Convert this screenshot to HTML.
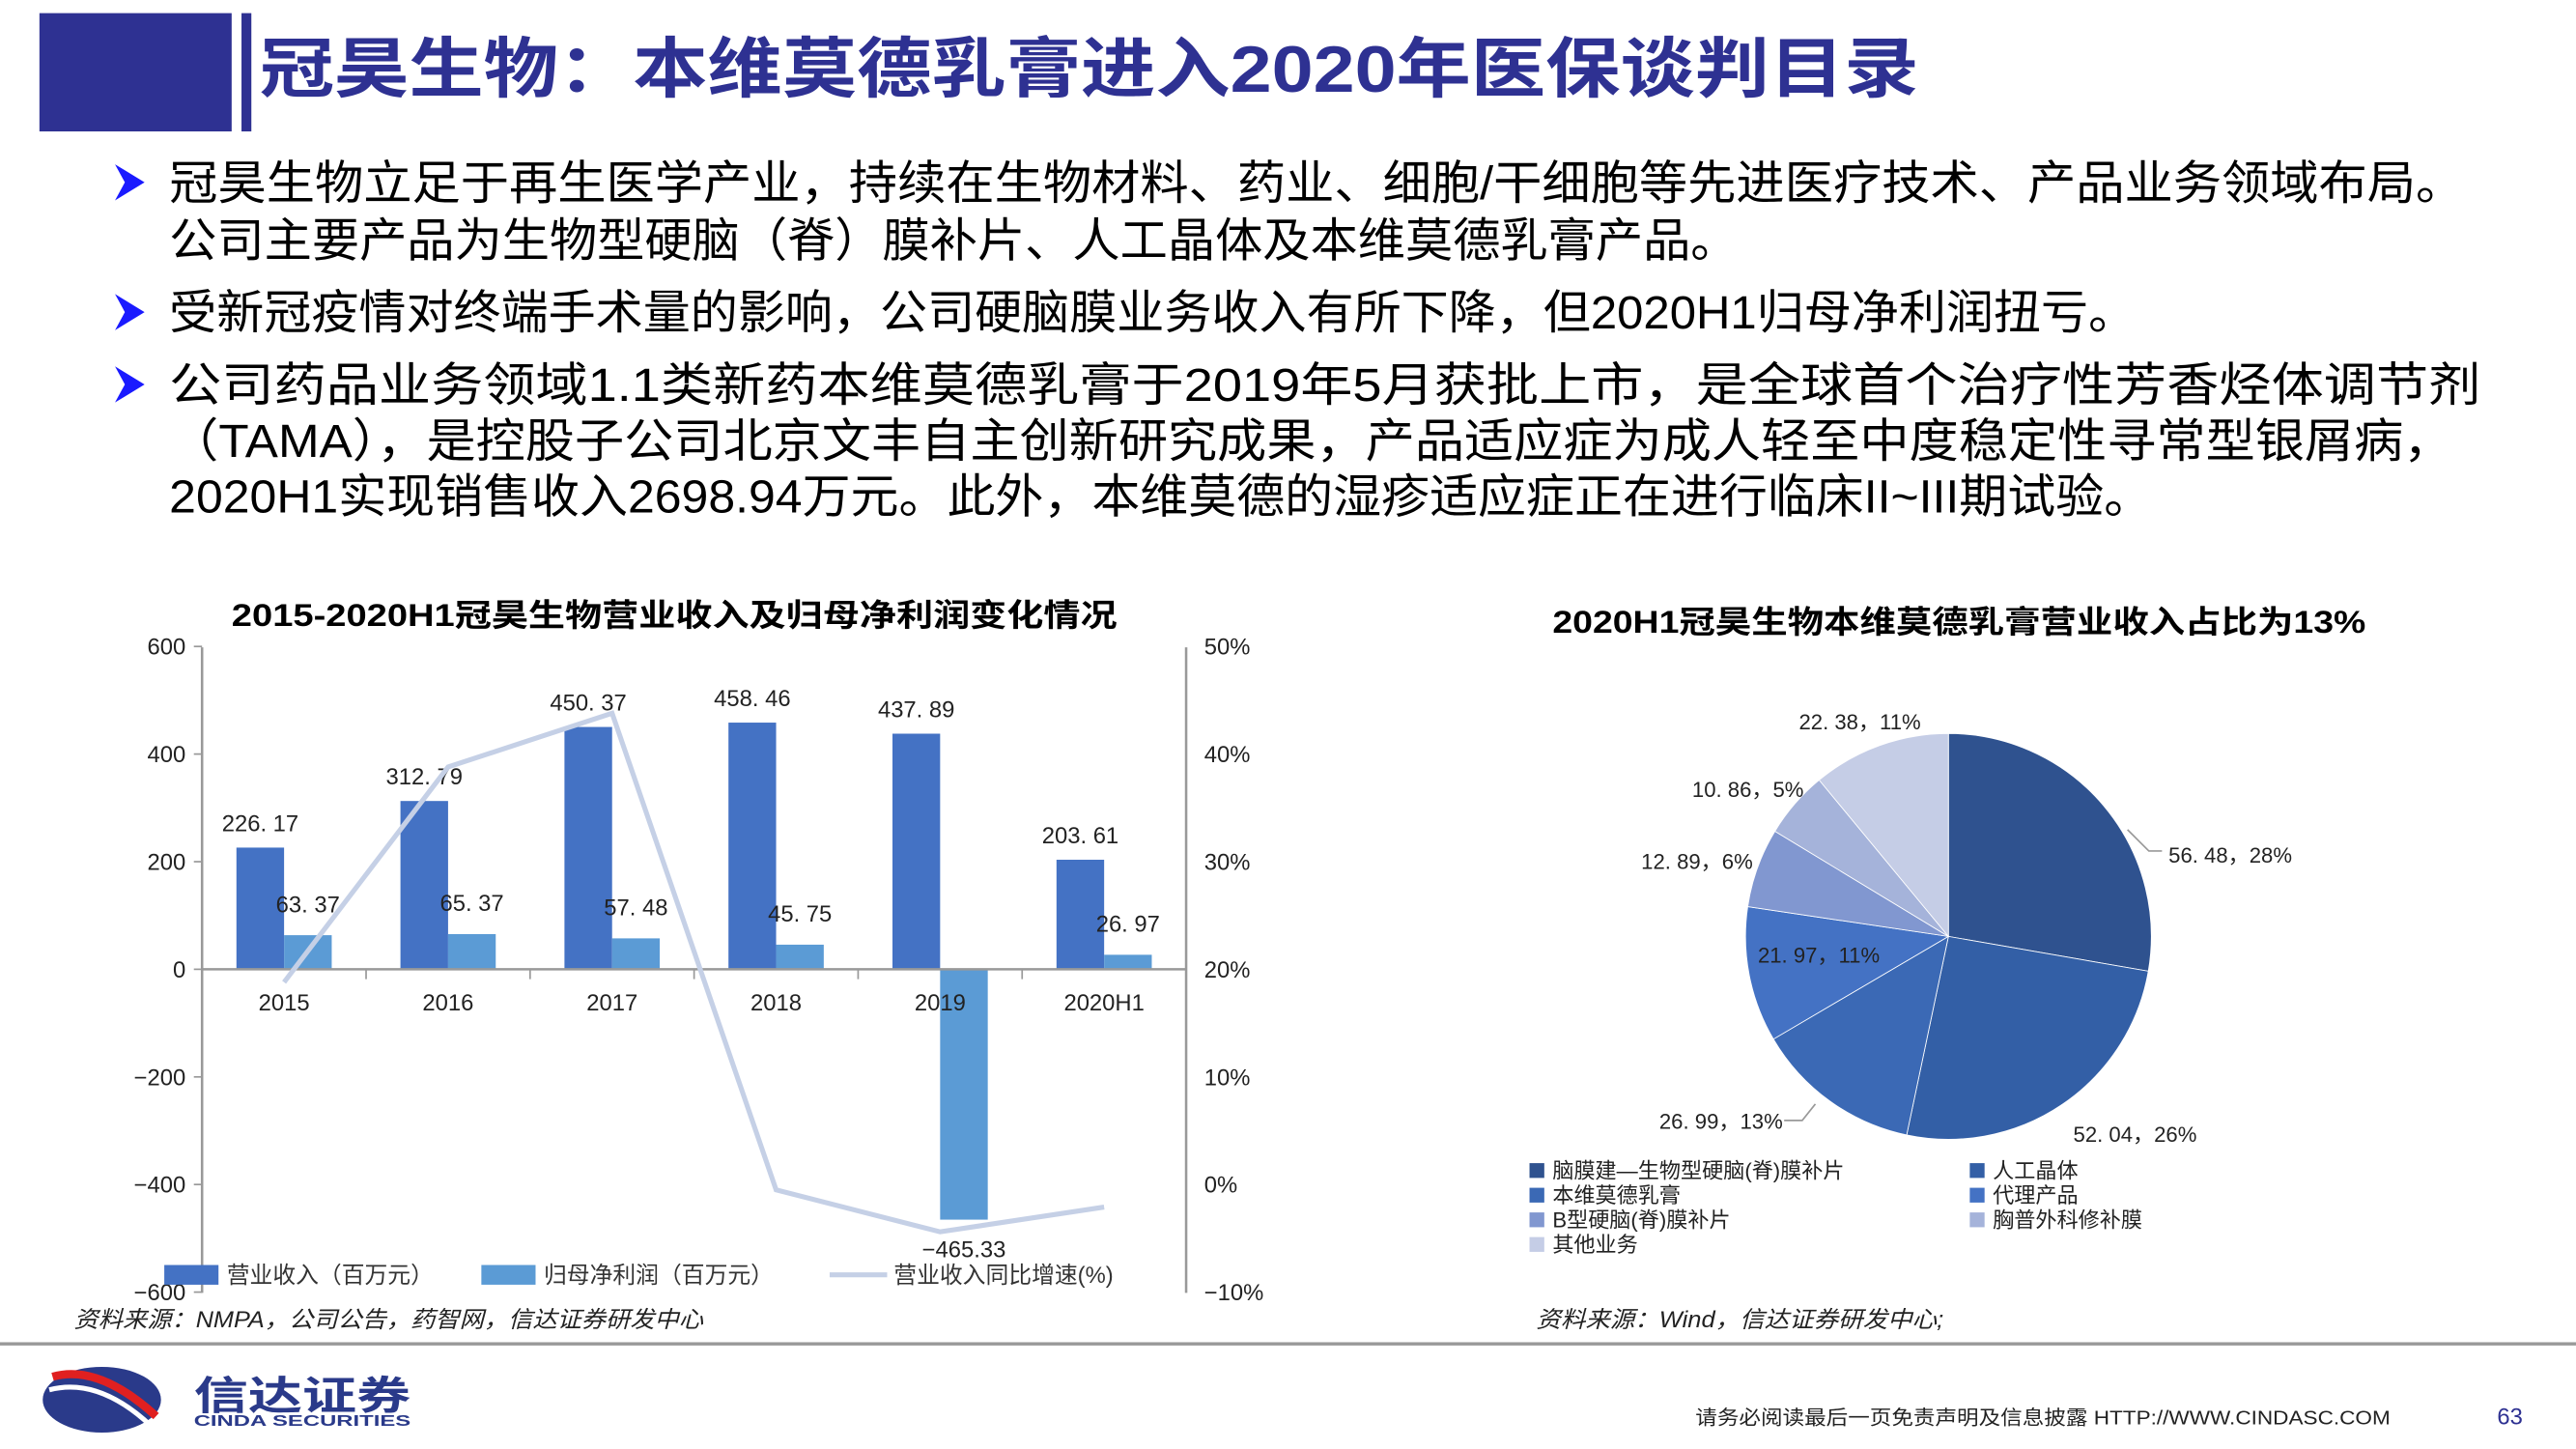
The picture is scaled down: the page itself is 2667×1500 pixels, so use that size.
<!DOCTYPE html>
<html><head><meta charset="utf-8"><style>
html,body{margin:0;padding:0;background:#fff;}
svg{display:block;}
text{font-family:"Liberation Sans","Noto Sans CJK SC",sans-serif;}
</style></head><body>
<svg id="s" width="2667" height="1500" viewBox="0 0 1568 882" preserveAspectRatio="none" xmlns="http://www.w3.org/2000/svg">
<rect x="24" y="8" width="117" height="72" fill="#2E3192"/>
<rect x="147" y="8" width="6" height="72" fill="#2E3192"/>
<text x="158" y="56" font-size="40" font-weight="bold" fill="#2E3192" textLength="1010" lengthAdjust="spacingAndGlyphs">冠昊生物：本维莫德乳膏进入2020年医保谈判目录</text>
<g font-size="28.5" fill="#000">
<path d="M70 100 L88 111 L70 122 L76 111 Z" fill="#1a1aff"/>
<text x="103" y="121" textLength="1397" lengthAdjust="spacingAndGlyphs">冠昊生物立足于再生医学产业，持续在生物材料、药业、细胞/干细胞等先进医疗技术、产品业务领域布局。</text>
<text x="103" y="156" textLength="955" lengthAdjust="spacingAndGlyphs">公司主要产品为生物型硬脑（脊）膜补片、人工晶体及本维莫德乳膏产品。</text>
<path d="M70 179 L88 190 L70 201 L76 190 Z" fill="#1a1aff"/>
<text x="103" y="200" textLength="1197" lengthAdjust="spacingAndGlyphs">受新冠疫情对终端手术量的影响，公司硬脑膜业务收入有所下降，但2020H1归母净利润扭亏。</text>
<path d="M70 223 L88 234 L70 245 L76 234 Z" fill="#1a1aff"/>
<text x="103" y="244" textLength="1407" lengthAdjust="spacingAndGlyphs">公司药品业务领域1.1类新药本维莫德乳膏于2019年5月获批上市，是全球首个治疗性芳香烃体调节剂</text>
<text x="103" y="278" textLength="1390" lengthAdjust="spacingAndGlyphs">（TAMA），是控股子公司北京文丰自主创新研究成果，产品适应症为成人轻至中度稳定性寻常型银屑病，</text>
<text x="103" y="312" textLength="1207" lengthAdjust="spacingAndGlyphs">2020H1实现销售收入2698.94万元。此外，本维莫德的湿疹适应症正在进行临床II~III期试验。</text>
</g>
<text x="141" y="381" font-size="19" font-weight="bold" textLength="539" lengthAdjust="spacingAndGlyphs">2015-2020H1冠昊生物营业收入及归母净利润变化情况</text>
<g id="bar"></g>
<text x="945" y="385" font-size="19" font-weight="bold" textLength="495" lengthAdjust="spacingAndGlyphs">2020H1冠昊生物本维莫德乳膏营业收入占比为13%</text>
<g id="pie"></g>
<text x="45" y="808" font-size="14" font-style="italic" fill="#222" textLength="383" lengthAdjust="spacingAndGlyphs">资料来源：NMPA，公司公告，药智网，信达证券研发中心</text>
<text x="935" y="808" font-size="14" font-style="italic" fill="#222" textLength="248" lengthAdjust="spacingAndGlyphs">资料来源：Wind，信达证券研发中心;</text>
<rect x="0" y="817" width="1568" height="2" fill="#999"/>
<g>
<ellipse cx="62" cy="852" rx="36" ry="20" fill="#2a3a8a"/>
<path d="M32 838 Q60 830 95 862" stroke="#e02020" stroke-width="5" fill="none"/>
<path d="M30 846 Q60 838 92 868" stroke="#fff" stroke-width="3" fill="none"/>
<text x="118" y="858" font-size="24" font-weight="bold" fill="#2a3a8a" textLength="132" lengthAdjust="spacingAndGlyphs">信达证券</text>
<text x="118" y="868" font-size="9" font-weight="bold" fill="#2a3a8a" textLength="132" lengthAdjust="spacingAndGlyphs">CINDA SECURITIES</text>
</g>
<text x="1032" y="867" font-size="12" fill="#222" textLength="423" lengthAdjust="spacingAndGlyphs">请务必阅读最后一页免责声明及信息披露  HTTP://WWW.CINDASC.COM</text>
<text x="1520" y="867" font-size="14" fill="#2E3192">63</text>
</svg>
<script>
const categories=["2015","2016","2017","2018","2019","2020H1"];
const revenue=[226.17,312.79,450.37,458.46,437.89,203.61];
const profit=[63.37,65.37,57.48,45.75,-465.33,26.97];
const growth=[18.8,38.8,43.8,-0.5,-4.4,-2.1];
const leftTicks=[600,400,200,0,-200,-400,-600];
const rightTicks=[50,40,30,20,10,0,-10];
const pieLabels=["脑膜建—生物型硬脑(脊)膜补片","人工晶体","本维莫德乳膏","代理产品","B型硬脑(脊)膜补片","胸普外科修补膜","其他业务"];
const pieValues=[56.48,52.04,26.99,21.97,12.89,10.86,22.38];
const piePct=["28%","26%","13%","11%","6%","5%","11%"];

const NS="http://www.w3.org/2000/svg";
function mk(p,tag,a,txt){const e=document.createElementNS(NS,tag);for(const k in a)e.setAttribute(k,a[k]);if(txt!==undefined)e.textContent=txt;p.appendChild(e);return e;}
const X0=123,X1=722,step=(X1-X0)/categories.length;
const yL=v=>590-v*(196.5/600);
const yR=v=>590-(v-20)*6.55;
const cx=i=>X0+step*(i+0.5);
const g=document.getElementById('bar');
let e;
e=mk(g,'line',{x1:X0,y1:394,x2:X0,y2:787,stroke:'#999','stroke-width':1.5});


e=mk(g,'line',{x1:X1,y1:394,x2:X1,y2:787,stroke:'#999','stroke-width':1.5});


leftTicks.forEach(t=>{
  mk(g,'line',{x1:X0-5,y1:yL(t),x2:X0,y2:yL(t),stroke:'#999'});
  e=mk(g,'text',{x:113,y:yL(t)+5,'font-size':14,'text-anchor':'end',fill:'#222'},t===0?'0':(t<0?'−'+(-t):String(t)));
  
  
});
rightTicks.forEach(t=>{
  e=mk(g,'text',{x:733,y:yR(t)+5,'font-size':14,fill:'#222'},(t<0?'−'+(-t):t)+'%');
  
  
});
categories.forEach((c,i)=>{
  const bw=29,c0=cx(i);
  const hR=yL(0)-yL(revenue[i]);
  e=mk(g,'rect',{x:c0-bw,y:yL(revenue[i]),width:bw,height:hR,fill:'#4472C4'});
  
  
  const p=profit[i],py=p>=0?yL(p):yL(0);
  e=mk(g,'rect',{x:c0,y:py,width:bw,height:Math.abs(yL(p)-yL(0)),fill:'#5B9BD5'});
  
  
  e=mk(g,'text',{x:c0-bw/2,y:yL(revenue[i])-10,'font-size':14,'text-anchor':'middle',fill:'#222'},revenue[i].toFixed(2).replace('.','. '));
  
  
  e=mk(g,'text',{x:c0+bw/2,y:p>=0?yL(p)-14:yL(p)+23,'font-size':14,'text-anchor':'middle',fill:'#222'},(p<0?'−':'')+Math.abs(p).toFixed(2).replace('.',p<0?'.':'. '));
  
  
  e=mk(g,'text',{x:c0,y:615,'font-size':14,'text-anchor':'middle',fill:'#222'},c);
  
  
});
e=mk(g,'line',{x1:X0,y1:yL(0),x2:X1,y2:yL(0),stroke:'#999','stroke-width':1.5});


for(let i=0;i<=categories.length;i++){mk(g,'line',{x1:X0+step*i,y1:590,x2:X0+step*i,y2:596,stroke:'#999'});}
e=mk(g,'polyline',{points:growth.map((v,i)=>cx(i)+','+yR(v)).join(' '),fill:'none',stroke:'#C5D0E6','stroke-width':3});


const lg=[[100,'#4472C4','营业收入（百万元）'],[293,'#5B9BD5','归母净利润（百万元）']];
lg.forEach(l=>{
  e=mk(g,'rect',{x:l[0],y:770,width:33,height:12,fill:l[1]});
  
  
  e=mk(g,'text',{x:l[0]+38,y:781,'font-size':14,fill:'#333'},l[2]);
  
  
});
mk(g,'line',{x1:505,y1:776,x2:540,y2:776,stroke:'#C5D0E6','stroke-width':3});
e=mk(g,'text',{x:544,y:781,'font-size':14,fill:'#333'},'营业收入同比增速(%)');



// pie
const P=document.getElementById('pie');
const colors=['#2F528F','#335FA6','#3B69B5','#4472C4','#8197D0','#A5B3DA','#C5CDE6'];
const PCX=1186,PCY=570,PR=123.5;
const total=pieValues.reduce((a,b)=>a+b,0);
let ang=-Math.PI/2;
// label anchor positions (layout)
const labelPos=[[1320,525],[1262,695],[1010,687],[1070,586],[999,529],[1030,485],[1095,444]];
pieValues.forEach((v,i)=>{
  const a2=ang+v/total*2*Math.PI;
  const x1=PCX+PR*Math.cos(ang),y1=PCY+PR*Math.sin(ang),x2=PCX+PR*Math.cos(a2),y2=PCY+PR*Math.sin(a2);
  e=mk(P,'path',{d:`M${PCX} ${PCY} L${x1} ${y1} A${PR} ${PR} 0 ${a2-ang>Math.PI?1:0} 1 ${x2} ${y2} Z`,fill:colors[i],stroke:'#fff','stroke-width':0.5});
  
  
  e=mk(P,'text',{x:labelPos[i][0],y:labelPos[i][1],'font-size':13,fill:'#222'},v.toFixed(2).replace('.','. ')+'，'+piePct[i]);
  
  
  ang=a2;
});
mk(P,'polyline',{points:'1295,505 1308,518 1316,518',fill:'none',stroke:'#999','stroke-width':1});
mk(P,'polyline',{points:'1086,682 1097,682 1105,672',fill:'none',stroke:'#999','stroke-width':1});
pieLabels.forEach((l,i)=>{
  const col=i%2,row=Math.floor(i/2);
  const x=col?1199:931,y=713+row*15;
  e=mk(P,'rect',{x:x,y:y-5,width:9,height:9,fill:colors[i]});
  
  
  e=mk(P,'text',{x:x+14,y:y+4,'font-size':13,fill:'#222'},l);
  
  
});
</script>
</body></html>
